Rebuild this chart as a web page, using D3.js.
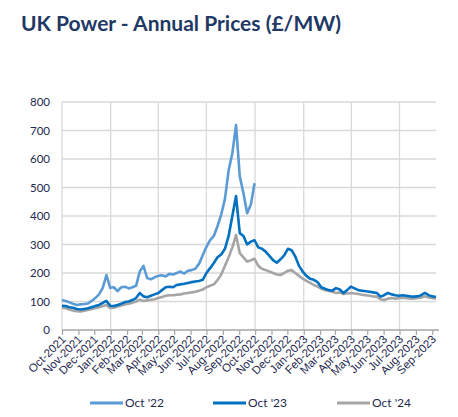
<!DOCTYPE html>
<html lang="en">
<head>
<meta charset="utf-8">
<title>UK Power - Annual Prices</title>
<script src="https://d3js.org/d3.v7.min.js"></script>
<style>
  body { margin: 0; background: #fff; }
  svg { font-family: Lato, "Open Sans", sans-serif; }
  .grid line { stroke: #d9d9d9; stroke-width: 1.3; }
  .tick-label { fill: #1f2a50; font-size: 11.5px; }
</style>
</head>
<body>
<script>
// weekly closing prices, first week starting 1 Oct 2021
var startDate = "2021-10-01";

var oct22 = [105,102,97,92,88,90,91,93,102,112,125,148,193,148,150,136,150,152,146,150,
  155,205,225,182,178,185,190,192,188,197,195,200,205,198,208,210,215,232,262,292,
  315,330,365,405,460,560,620,719,540,480,410,440,515];

var oct23 = [85,84,80,78,74,72,74,76,80,84,88,95,102,85,84,88,92,98,100,105,
  112,130,118,115,120,125,130,140,150,152,150,158,160,162,165,168,170,172,176,200,
  217,235,255,265,285,330,400,470,340,330,300,310,315,290,285,275,260,245,236,248,
  262,285,280,258,225,205,190,180,176,168,150,145,140,138,147,142,130,140,152,146,
  140,138,136,134,132,130,117,122,130,125,122,120,122,120,118,117,118,122,130,122,
  118,116];

var oct24 = [78,76,72,68,66,65,68,70,74,76,80,84,88,77,78,82,86,90,92,96,
  100,106,102,104,106,108,112,116,120,122,122,124,125,128,130,132,134,138,142,150,
  155,160,175,195,225,255,290,333,270,255,240,245,250,225,215,210,205,200,195,193,
  200,208,210,200,190,180,172,165,158,152,145,140,138,134,130,132,126,128,130,128,
  126,124,122,120,118,117,108,105,110,112,110,112,113,112,110,110,112,114,118,114,
  112,111];

var seriesNames = ["Oct '22", "Oct '23", "Oct '24"];
var seriesColors = ["#5b9bd5", "#0070c0", "#a5a5a5"];
var yTicks = [0, 100, 200, 300, 400, 500, 600, 700, 800];

var W = 458, H = 417;
var margin = { left: 62, right: 22, top: 102, bottom: 87 };

var svg = d3.select("body").append("svg")
  .attr("width", W)
  .attr("height", H);

svg.append("text")
  .attr("x", 21)
  .attr("y", 31)
  .attr("fill", "#1f3864")
  .attr("font-size", "21px")
  .attr("font-weight", 700)
  .text("UK Power - Annual Prices (£/MW)");

var t0 = d3.isoParse(startDate);
function toPoints(vals) {
  return vals.map(function(v, i) { return { date: d3.timeDay.offset(t0, i * 7), value: v }; });
}
var series = [oct22, oct23, oct24].map(toPoints);
var lastDate = series[1][series[1].length - 1].date;

var x = d3.scaleTime()
  .domain([t0, lastDate])
  .range([margin.left, W - margin.right]);
var y = d3.scaleLinear()
  .domain([0, 800])
  .range([H - margin.bottom, margin.top]);

var months = d3.timeMonth.range(t0, d3.timeDay.offset(lastDate, 1));
var quarterMonths = months.filter(function(d) { return d.getMonth() % 3 === 0; });

// gridlines
var grid = svg.append("g").attr("class", "grid");
grid.selectAll("line.h")
  .data(yTicks.slice(1))
  .enter().append("line")
  .attr("x1", margin.left).attr("x2", W - margin.right)
  .attr("y1", function(d) { return y(d); })
  .attr("y2", function(d) { return y(d); });
grid.selectAll("line.v")
  .data(quarterMonths)
  .enter().append("line")
  .attr("x1", function(d) { return x(d); })
  .attr("x2", function(d) { return x(d); })
  .attr("y1", margin.top).attr("y2", H - margin.bottom);

// y labels
svg.append("g").selectAll("text")
  .data(yTicks)
  .enter().append("text")
  .attr("class", "tick-label")
  .attr("x", 50)
  .attr("y", function(d) { return y(d); })
  .attr("dy", "0.35em")
  .attr("text-anchor", "end")
  .text(function(d) { return d; });

// x axis
var xAxis = d3.axisBottom(x)
  .tickValues(months)
  .tickSize(5)
  .tickFormat(d3.timeFormat("%b-%Y"));
var gx = svg.append("g")
  .attr("transform", "translate(0," + (H - margin.bottom) + ")")
  .call(xAxis);
gx.select(".domain").attr("stroke", "#a6a6a6").attr("stroke-width", 1.3)
  .attr("d", "M" + margin.left + ",0H" + (W - margin.right + 3));
gx.selectAll(".tick line").attr("stroke", "#a6a6a6").attr("stroke-width", 1.2);
gx.selectAll(".tick text")
  .attr("class", "tick-label")
  .attr("font-family", null)
  .attr("font-size", null)
  .attr("fill", null)
  .attr("text-anchor", "end")
  .attr("dy", null)
  .attr("y", 0)
  .attr("transform", "translate(4,10) rotate(-45)");

// lines
var line = d3.line()
  .x(function(d) { return x(d.date); })
  .y(function(d) { return y(d.value); });

svg.append("g").selectAll("path")
  .data([series[2], series[1], series[0]])
  .enter().append("path")
  .attr("fill", "none")
  .attr("stroke", function(d, i) { return seriesColors[2 - i]; })
  .attr("stroke-width", 2.6)
  .attr("stroke-linejoin", "round")
  .attr("d", line);

// legend
var legendX = [90, 213, 337];
var leg = svg.append("g").selectAll("g")
  .data(seriesNames)
  .enter().append("g")
  .attr("transform", function(d, i) { return "translate(" + legendX[i] + ",403)"; });
leg.append("line")
  .attr("x1", 0).attr("x2", 33)
  .attr("stroke", function(d, i) { return seriesColors[i]; })
  .attr("stroke-width", 3);
leg.append("text")
  .attr("x", 35)
  .attr("dy", "0.35em")
  .attr("fill", "#1f2a50")
  .attr("font-size", "12px")
  .text(function(d) { return d; });
</script>
</body>
</html>
